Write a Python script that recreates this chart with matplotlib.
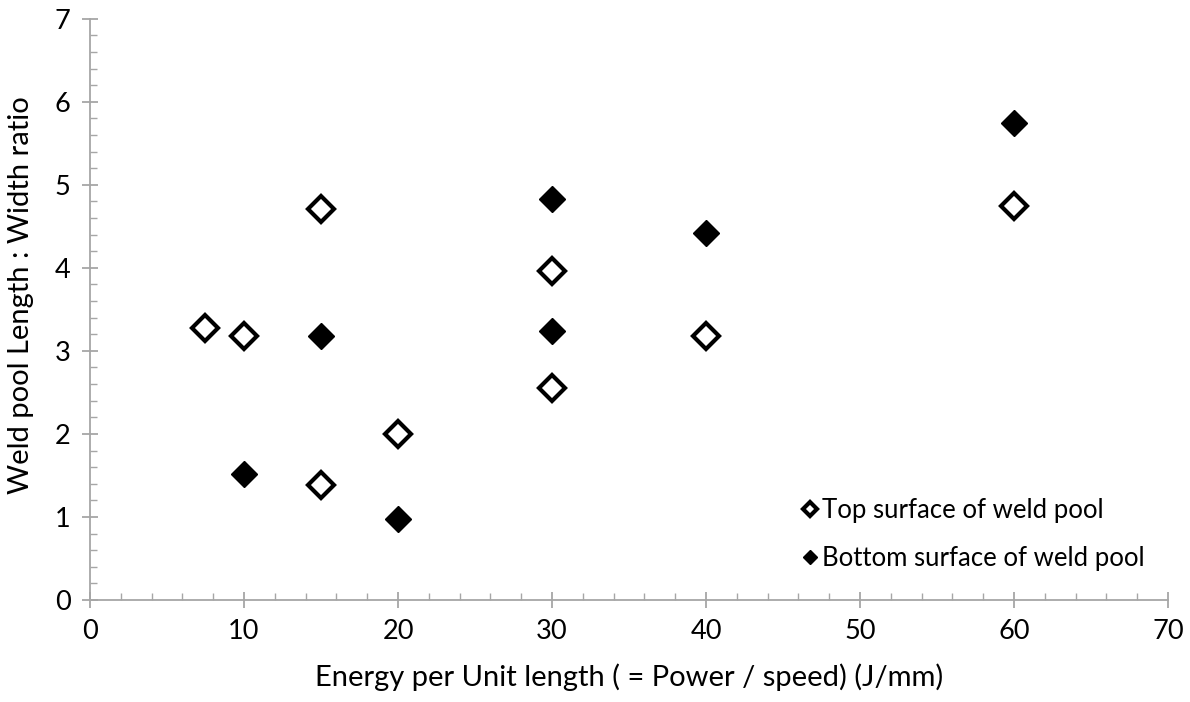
import numpy as np
import matplotlib.pyplot as plt
from matplotlib.ticker import MultipleLocator

plt.rcParams['font.family'] = ['Lato', 'DejaVu Sans']

# top surface (open diamonds)
top_x = [7.5, 10, 15, 15, 20, 30, 30, 40, 60]
top_y = [3.28, 3.18, 4.71, 1.38, 2.00, 3.96, 2.55, 3.18, 4.75]

# bottom surface (filled diamonds)
bot_x = [10, 15, 20, 30, 30, 40, 60]
bot_y = [1.52, 3.18, 0.97, 4.83, 3.24, 4.42, 5.75]

fig = plt.figure(figsize=(11.9, 7.02), dpi=100)
ax = fig.add_axes([0.0756, 0.1453, 0.906, 0.828])

ax.plot(top_x, top_y, 'D', ms=13, mfc='white', mec='black', mew=3,
        linestyle='none', label='Top surface of weld pool', clip_on=False)
ax.plot(bot_x, bot_y, 'D', ms=13, mfc='black', mec='black', mew=1,
        linestyle='none', label='Bottom surface of weld pool', clip_on=False)

ax.set_xlim(0, 70)
ax.set_ylim(0, 7)
ax.xaxis.set_major_locator(MultipleLocator(10))
ax.xaxis.set_minor_locator(MultipleLocator(2))
ax.yaxis.set_major_locator(MultipleLocator(1))
ax.yaxis.set_minor_locator(MultipleLocator(0.2))

grey = '#a6a6a6'
for s in ['top', 'right']:
    ax.spines[s].set_visible(False)
for s in ['left', 'bottom']:
    ax.spines[s].set_color(grey)
    ax.spines[s].set_linewidth(1.3)

ax.tick_params(which='major', direction='inout', length=12, width=1.3, color=grey,
               labelsize=19.5, pad=8)
ax.tick_params(which='minor', direction='in', length=5, width=1, color=grey)

ax.set_xlabel('Energy per Unit length ( = Power / speed) (J/mm)', fontsize=21, labelpad=14)
ax.set_ylabel('Weld pool Length : Width ratio', fontsize=21)
ax.yaxis.set_label_coords(-0.052, 0.525)

leg = ax.legend(loc='lower right', bbox_to_anchor=(1.0, 0.01), frameon=False,
                fontsize=18.5, markerscale=0.55, handlelength=0.6, handletextpad=0.2,
                labelspacing=0.9)

fig.savefig('out.png', dpi=100)
